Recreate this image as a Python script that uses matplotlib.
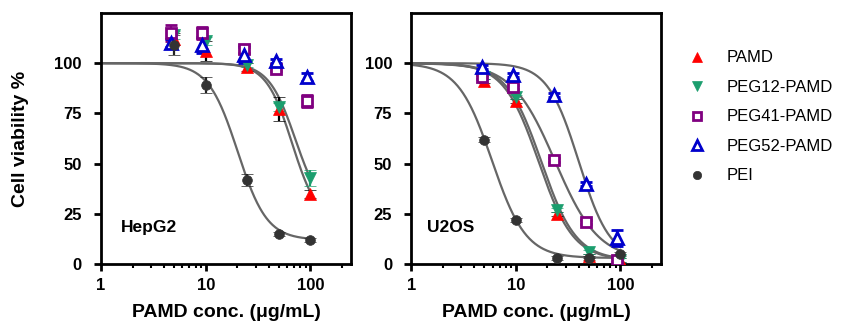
import numpy as np
import matplotlib
matplotlib.use("Agg")
import matplotlib.pyplot as plt
from matplotlib.ticker import LogLocator, FixedLocator, NullFormatter

plt.rcParams['font.family'] = ['Liberation Sans', 'DejaVu Sans']

# concentrations (ug/mL); PEG41/PEG52 are plotted slightly left
conc = [5, 10, 25, 50, 100]
conc_peg = [4.7, 9.3, 23.3, 46.5, 93]

series = ['PAMD', 'PEG12-PAMD', 'PEG41-PAMD', 'PEG52-PAMD', 'PEI']

# HepG2 viability (mean, error)
hep_pamd = [112, 106, 98, 77, 35]
hep_pamd_err = [3, 5, 2, 6, 2]
hep_peg12 = [114, 111, 99, 78, 43]
hep_peg12_err = [2, 2, 1, 2, 4]
hep_peg41 = [115, 115, 107, 97, 81]
hep_peg41_err = [4, 3, 2, 1, 3]
hep_peg52 = [110, 109, 104, 101, 93]
hep_peg52_err = [2, 4, 4, 1, 2]
hep_pei = [109, 89, 42, 15, 12]
hep_pei_err = [5, 4, 3, 1, 1]

# U2OS viability (mean, error)
u2_pamd = [91, 81, 25, 4, 2]
u2_pamd_err = [1, 1, 1, 1, 1]
u2_peg12 = [93, 83, 27, 6, 2]
u2_peg12_err = [1, 1, 1, 1, 1]
u2_peg41 = [93, 88, 52, 21, 2]
u2_peg41_err = [1, 1, 1, 1, 1]
u2_peg52 = [98, 94, 84, 40, 13]
u2_peg52_err = [1, 1, 1, 1, 4]
u2_pei = [62, 22, 3, 3, 5]
u2_pei_err = [1, 1, 1, 1, 1]

# fitted dose-response curves: (bottom, IC50, hill)
hep_fits = [(20, 67, 3.5), (24, 72, 3.4), (12, 20.2, 3.1)]
u2_fits = [(3, 5.9, 2.67), (2, 16.5, 2.6), (2, 17.5, 2.6), (2, 23.8, 2.1), (2, 40, 2.9)]

colors = ['#ff0000', '#1b9e6e', '#800080', '#0000cc', '#333333']
ecolors = ['black', '#1b9e6e', '#800080', '#0000cc', '#222222']
markers = ['^', 'v', 's', '^', 'o']
filled = [True, True, False, False, True]
msizes = [8, 8, 7, 8, 7]


def logistic(x, bottom, ic50, hill, top=100):
    return bottom + (top - bottom) / (1 + (x / ic50) ** hill)


def draw_panel(ax, data, fits, label, label_x):
    xs = [conc, conc, conc_peg, conc_peg, conc]
    xc = np.logspace(0, 2, 300)
    for b, ic, h in fits:
        ax.plot(xc, logistic(xc, b, ic, h), color='#666666', lw=1.6, zorder=2)
    for i, (y, e) in enumerate(data):
        ax.errorbar(xs[i], y, yerr=e, fmt=markers[i], color=colors[i],
                    ecolor=ecolors[i], elinewidth=1.6, capsize=4, capthick=1.6,
                    markersize=msizes[i], mew=2 if not filled[i] else 0.5,
                    mfc=colors[i] if filled[i] else 'white', mec=colors[i],
                    label=series[i], zorder=3)
    ax.set_xscale('log')
    ax.set_xlim(1, 245)
    ax.set_ylim(0, 125)
    ax.yaxis.set_major_locator(FixedLocator([0, 25, 50, 75, 100]))
    ax.xaxis.set_major_locator(FixedLocator([1, 10, 100]))
    ax.set_xticklabels(['1', '10', '100'])
    ax.xaxis.set_minor_locator(LogLocator(base=10, subs=np.arange(2, 10)))
    ax.xaxis.set_minor_formatter(NullFormatter())
    for s in ax.spines.values():
        s.set_linewidth(2)
    ax.tick_params(which='major', direction='out', length=5, width=2, labelsize=12)
    ax.tick_params(axis='x', which='major', pad=5)
    ax.tick_params(axis='y', which='major', pad=9)
    ax.tick_params(which='minor', direction='out', length=3, width=1.5)
    for t in ax.get_xticklabels() + ax.get_yticklabels():
        t.set_fontweight('bold')
    ax.set_xlabel('PAMD conc. (\u03bcg/mL)', fontsize=14, fontweight='bold', labelpad=8)
    ax.text(label_x, 18, label, fontsize=12.5, fontweight='bold', va='center')


fig = plt.figure(figsize=(8.42, 3.25), dpi=100)
ax1 = fig.add_axes([0.12, 0.1877, 0.297, 0.7723])
ax2 = fig.add_axes([0.4887, 0.1877, 0.2963, 0.7723])

draw_panel(ax1, [(hep_pamd, hep_pamd_err), (hep_peg12, hep_peg12_err),
                 (hep_peg41, hep_peg41_err), (hep_peg52, hep_peg52_err),
                 (hep_pei, hep_pei_err)], hep_fits, 'HepG2', 1.55)
draw_panel(ax2, [(u2_pamd, u2_pamd_err), (u2_peg12, u2_peg12_err),
                 (u2_peg41, u2_peg41_err), (u2_peg52, u2_peg52_err),
                 (u2_pei, u2_pei_err)], u2_fits, 'U2OS', 1.42)
ax1.set_ylabel('Cell viability %', fontsize=14, fontweight='bold')
ax1.yaxis.set_label_coords(-0.29, 0.5)

handles = [plt.Line2D([], [], ls='none', marker=markers[i], color=colors[i],
                      markersize=msizes[i] - 1, mew=2 if not filled[i] else 0.5,
                      mfc=colors[i] if filled[i] else 'white', mec=colors[i])
           for i in range(5)]
fig.legend(handles, series, loc='upper left', bbox_to_anchor=(0.808, 0.845),
           frameon=False, fontsize=12, borderpad=0, borderaxespad=0,
           labelspacing=0.87, handletextpad=0.78)

fig.savefig('out.png', dpi=100)
